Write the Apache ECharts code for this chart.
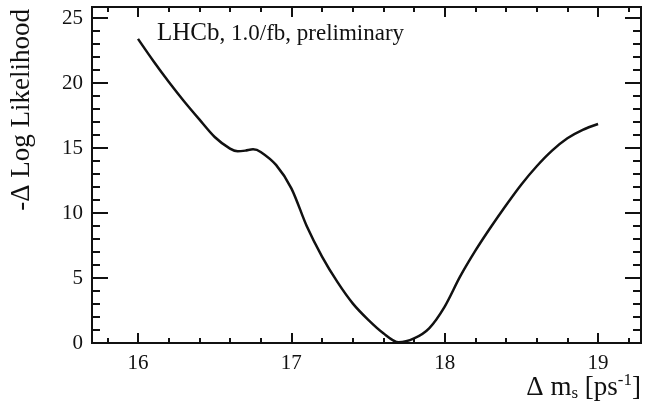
<!DOCTYPE html>
<html>
<head>
<meta charset="utf-8">
<script src="https://cdn.jsdelivr.net/npm/echarts@6.0.0/dist/echarts.min.js"></script>
<style>
  html, body { margin: 0; padding: 0; background: #fff; }
  #main { width: 645px; height: 405px; }
</style>
</head>
<body>
<div id="main"></div>
<script>
// Δms scan, values
const dms = [16.0, 16.1, 16.2, 16.3, 16.4, 16.5, 16.6, 16.65, 16.7, 16.75, 16.8, 16.9,
  17.0, 17.1, 17.2, 17.3, 17.4, 17.5, 17.6, 17.7, 17.8, 17.9,
  18.0, 18.1, 18.2, 18.3, 18.4, 18.5, 18.6, 18.7, 18.8, 18.9, 19.0];
const dll = [23.4, 21.7, 20.1, 18.6, 17.2, 15.85, 14.95, 14.75, 14.8, 14.9, 14.7, 13.7,
  11.9, 9.0, 6.65, 4.7, 3.05, 1.8, 0.75, 0.05, 0.35, 1.15,
  2.8, 5.1, 7.1, 8.9, 10.6, 12.2, 13.6, 14.8, 15.75, 16.4, 16.85];

const xMajor = [16, 17, 18, 19];
const yMajor = [0, 5, 10, 15, 20, 25];

const xMin = 15.7, xMax = 19.28;
const yMin = 0, yMax = 25.85;

// minor tick positions (every 0.2 on x, every 1 on y)
const xMinor = [];
for (let i = 79; i <= 96; i++) xMinor.push(+(i * 0.2).toFixed(1));
const yMinor = [];
for (let i = 0; i <= 25; i++) yMinor.push(i);

const serif = '"Liberation Serif", "DejaVu Serif", serif';
const ink = '#111';

function xAx(pos, ticks, len, labels) {
  return {
    type: 'value', position: pos, min: xMin, max: xMax,
    axisLine: { show: true, onZero: false, lineStyle: { color: ink, width: 2 } },
    axisTick: { show: true, inside: true, length: len, customValues: ticks,
      lineStyle: { color: ink, width: 2 } },
    axisLabel: labels ? { show: true, customValues: xMajor, margin: 10,
      fontFamily: serif, fontSize: 21, color: ink } : { show: false },
    splitLine: { show: false }
  };
}
function yAx(pos, ticks, len, labels) {
  return {
    type: 'value', position: pos, min: yMin, max: yMax,
    axisLine: { show: true, onZero: false, lineStyle: { color: ink, width: 2 } },
    axisTick: { show: true, inside: true, length: len, customValues: ticks,
      lineStyle: { color: ink, width: 2 } },
    axisLabel: labels ? { show: true, customValues: yMajor, margin: 9,
      fontFamily: serif, fontSize: 21, color: ink } : { show: false },
    splitLine: { show: false }
  };
}

const chart = echarts.init(document.getElementById('main'));
chart.setOption({
  animation: false,
  backgroundColor: '#fff',
  grid: { left: 92, right: 4, top: 7, bottom: 62 },
  xAxis: [
    xAx('bottom', xMajor, 10, true),
    xAx('bottom', xMinor, 5, false),
    xAx('top', xMajor, 10, false),
    xAx('top', xMinor, 5, false)
  ],
  yAxis: [
    yAx('left', yMajor, 16, true),
    yAx('left', yMinor, 8, false),
    yAx('right', yMajor, 16, false),
    yAx('right', yMinor, 8, false)
  ],
  series: [{
    type: 'line',
    data: dms.map((x, i) => [x, dll[i]]),
    smooth: 0.3,
    showSymbol: false,
    lineStyle: { color: ink, width: 2.5 }
  }],
  graphic: [
    {
      type: 'text', x: 22, y: 9, rotation: Math.PI / 2,
      style: { text: '-Δ Log Likelihood', fontFamily: serif, fontSize: 27, fill: ink,
        textAlign: 'right', textVerticalAlign: 'middle' }
    },
    {
      type: 'text', right: 4, top: 372,
      style: {
        text: 'Δ m{sub|s} [ps{sup|-1}]', fontFamily: serif, fontSize: 27, fill: ink,
        rich: {
          sub: { fontFamily: serif, fontSize: 17, fill: ink, padding: [12, 0, 0, 0] },
          sup: { fontFamily: serif, fontSize: 17, fill: ink, padding: [0, 0, 14, 0] }
        }
      }
    },
    {
      type: 'text', x: 157, y: 46,
      style: {
        text: '{a|LHCb}{b|, 1.0/fb, preliminary}', fill: ink, textVerticalAlign: 'bottom',
        rich: {
          a: { fontFamily: serif, fontSize: 25, fill: ink },
          b: { fontFamily: serif, fontSize: 23, fill: ink }
        }
      }
    }
  ]
});
</script>
</body>
</html>
